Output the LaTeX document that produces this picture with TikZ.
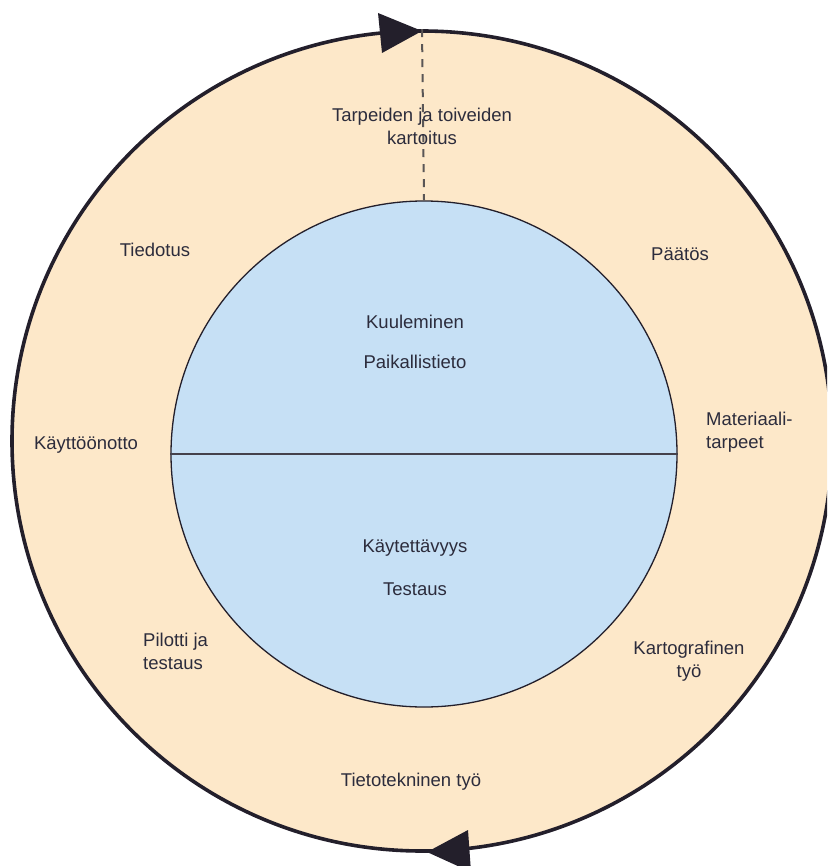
\documentclass[tikz,border=0pt]{standalone}
\usepackage{fontspec}
\setmainfont{Liberation Sans}
\definecolor{ringfill}{HTML}{FDE8C9}
\definecolor{corefill}{HTML}{C6E0F5}
\definecolor{ink}{HTML}{231F2B}
\definecolor{txt}{HTML}{2C2C3C}
\definecolor{dashgrey}{HTML}{5A5656}
\begin{document}
\begin{tikzpicture}[x=1pt,y=-1pt,
  lbl/.style={font=\fontsize{18.5}{23}\selectfont, text=txt, align=center, inner sep=0pt},
  ring/.style={circle, draw=ink, fill=ringfill, line width=3.6pt, minimum size=820pt, inner sep=0pt},
  core/.style={circle, draw=ink, fill=corefill, line width=1.3pt, minimum size=506pt, inner sep=0pt},
  tip/.style={fill=ink, draw=none}]
\useasboundingbox (0,0) rectangle (827,866);
\begin{scope}
\clip (0,0) rectangle (827,866);
% outer cycle ring and inner core
\node[ring] (outer) at (422,441) {};
\node[core] (inner) at (424,454) {};
% dividing line of the core
\draw[ink!85!white, line width=2pt] (inner.west) -- (inner.east);
% dashed start marker
\draw[dashgrey, line width=2pt, dash pattern=on 8pt off 7pt] (outer.north) -- (inner.north);
% direction arrowheads on the ring
\fill[tip] (422,31) -- (378,13) -- (382,53) -- cycle;
\fill[tip] (427,852) -- (468,830) -- (471,872) -- cycle;
\end{scope}
% ring labels
\node[lbl] (kartoitus) at (422,126) {Tarpeiden ja toiveiden\\kartoitus};
\node[lbl] (paatos) at (680,254) {Päätös};
\node[lbl, align=left, anchor=west] (materiaali) at (706,432) {Materiaali-\\tarpeet};
\node[lbl] (kartografinen) at (689,661) {Kartografinen\\työ};
\node[lbl] (tietotekninen) at (411,782) {Tietotekninen työ};
\node[lbl, align=left, anchor=west] (pilotti) at (143,651) {Pilotti ja\\testaus};
\node[lbl] (kayttoonotto) at (86,445) {Käyttöönotto};
\node[lbl] (tiedotus) at (155,250) {Tiedotus};
% core labels
\node[lbl] (kuuleminen) at (415,322) {Kuuleminen};
\node[lbl] (paikallistieto) at (415,362) {Paikallistieto};
\node[lbl] (kaytettavyys) at (415,548) {Käytettävyys};
\node[lbl] (testaus) at (415,589) {Testaus};
\end{tikzpicture}
\end{document}
